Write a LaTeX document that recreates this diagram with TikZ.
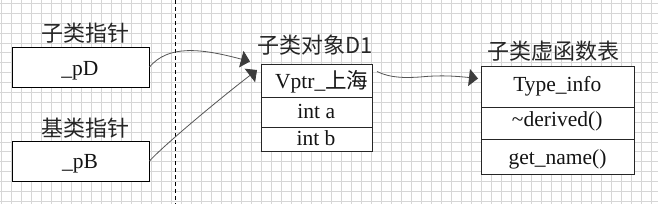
\documentclass[tikz,border=0pt]{standalone}
\usepackage{fontspec}
\setmainfont{Liberation Serif}
\newfontfamily\zhfont{Noto Sans CJK SC}
\usetikzlibrary{arrows.meta}
\definecolor{gridc}{RGB}{214,214,214}
\definecolor{linec}{RGB}{85,85,85}
\definecolor{headc}{RGB}{60,60,60}
\definecolor{txtc}{RGB}{20,20,20}
\tikzset{
  gridline/.style={draw=gridc, line width=0.8pt},
  ptrbox/.style={draw=black, fill=white, line width=1pt, inner sep=0pt,
    minimum width=137pt, minimum height=40pt},
  cell/.style={draw=black!85, fill=white, line width=0.9pt, inner sep=0pt, anchor=north west},
  txt/.style={font=\fontsize{21.5}{25}\selectfont, text=txtc, anchor=base, inner sep=0pt},
  zhlabel/.style={font=\fontsize{22}{26}\selectfont\zhfont, text=black!85, inner sep=0pt},
  conn/.style={draw=linec, line width=0.8pt, -{Triangle[length=9pt,width=17pt,color=headc]}},
}
\begin{document}
\begin{tikzpicture}[x=1pt,y=-1pt]
\useasboundingbox (0,0) rectangle (658,204);
\fill[white] (0,0) rectangle (658,204);
% grid
\foreach \i in {0,...,65} \draw[gridline] ({1+10*\i},0) -- ({1+10*\i},204);
\foreach \j in {0,...,20} \draw[gridline] (0,{3.3+9.9*\j}) -- (658,{3.3+9.9*\j});
% dashed separator
\draw[black, line width=0.9pt, dash pattern=on 4pt off 3pt] (175.5,0) -- (175.5,204);

% pointer boxes
\node[zhlabel] (lpD) at (85,33.3) {子类指针};
\node[ptrbox] (pD) at (80.5,67) {};
\node[txt] (tpD) at (80,75) {\_pD};
\node[zhlabel] (lpB) at (85,128) {基类指针};
\node[ptrbox] (pB) at (80.5,161) {};
\node[txt] (tpB) at (80,168.3) {\_pB};

% derived object
\node[zhlabel] (lD1) at (315,45) {子类对象D1};
\node[cell, minimum width=111.6pt, minimum height=32.4pt] (m1) at (260.7,64.3) {};
\node[cell, minimum width=111.6pt, minimum height=30pt] (m2) at (260.7,96.7) {};
\node[cell, minimum width=111.6pt, minimum height=24.3pt] (m3) at (260.7,126.7) {};
\node[txt] (tm1) at (321.7,88.3) {Vptr\_{\zhfont 上海}};
\node[txt] (tm2) at (316.3,118.3) {int a};
\node[txt] (tm3) at (316,145) {int b};

% vtable
\node[zhlabel] (lvt) at (553.8,51) {子类虚函数表};
\node[cell, minimum width=153pt, minimum height=40.4pt] (v1) at (481.3,66.3) {};
\node[cell, minimum width=153pt, minimum height=32.6pt] (v2) at (481.3,106.7) {};
\node[cell, minimum width=153pt, minimum height=34.7pt] (v3) at (481.3,139.3) {};
\node[txt] (tv1) at (557.3,91) {Type\_info};
\node[txt] (tv2) at (557.2,126) {\textasciitilde derived()};
\node[txt] (tv3) at (557.5,164.3) {get\_name()};

% connectors
\coordinate (t1) at (250,61.5);
\coordinate (t2) at (257,70);
\coordinate (s3) at (377,71.5);
\coordinate (t3) at (478,78.5);
\draw[conn] (pD.east) .. controls (168,45) and (200,48) .. (t1);
\draw[conn] (pB.east) .. controls (163,146) and (218,100) .. (t2);
\draw[conn] (s3) .. controls (390,78) and (405,78) .. (420,77) .. controls (440,75) and (455,76) .. (t3);
\end{tikzpicture}
\end{document}
